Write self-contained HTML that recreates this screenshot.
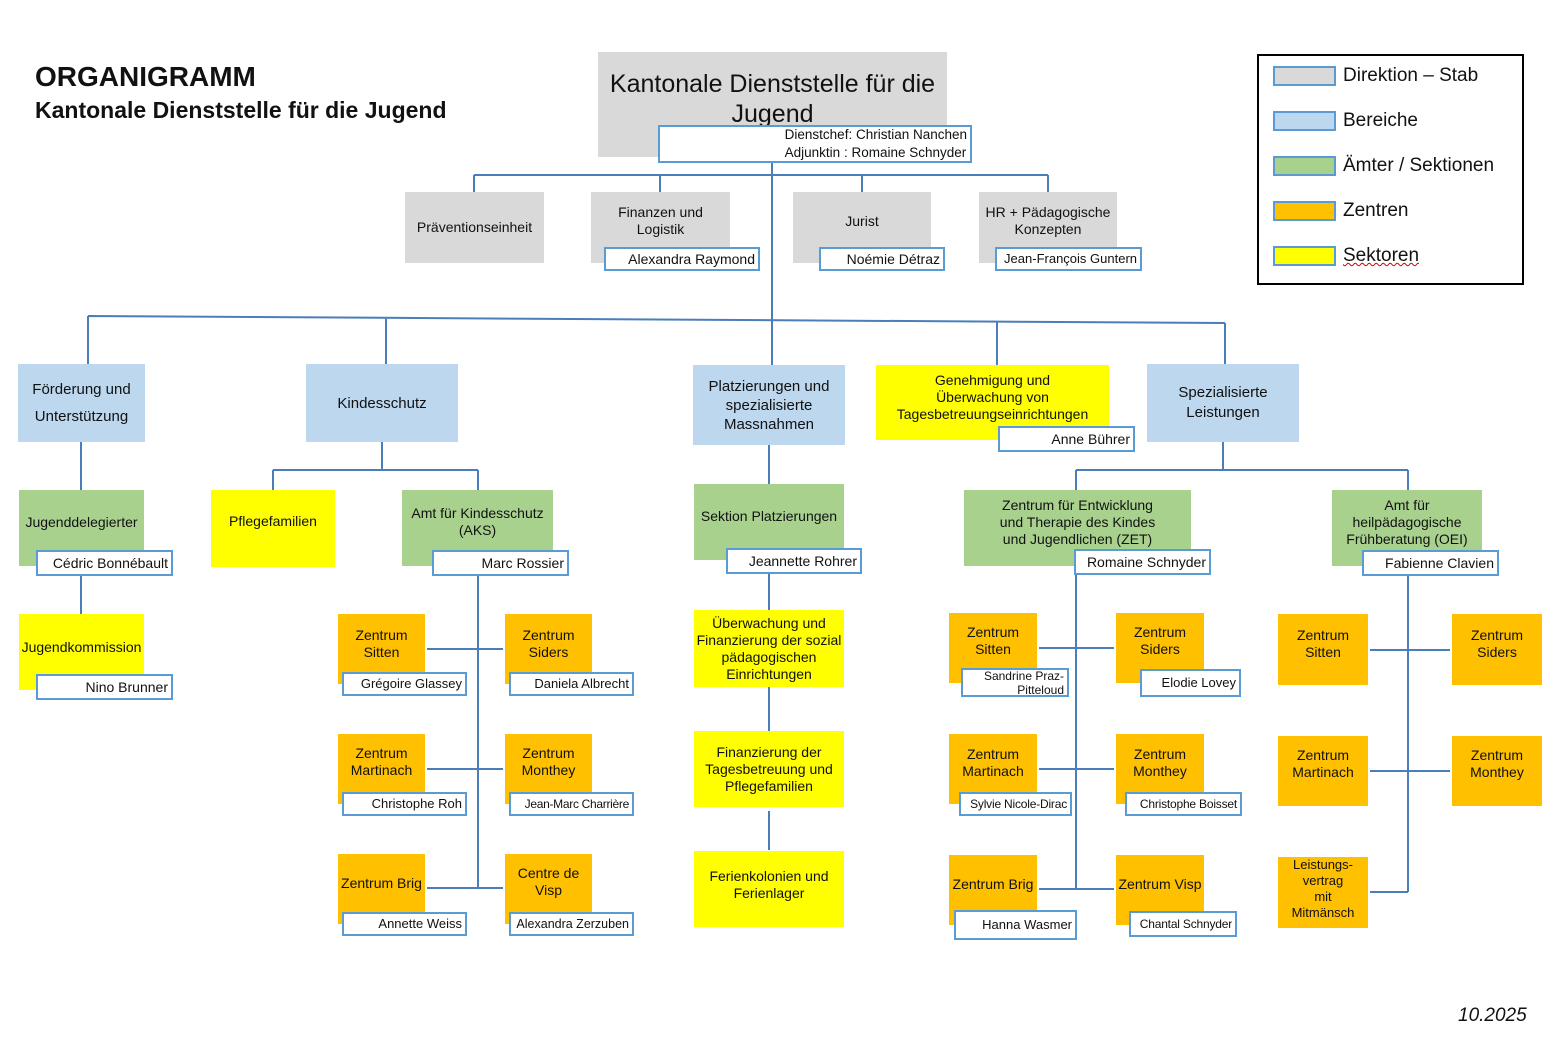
<!DOCTYPE html>
<html><head><meta charset="utf-8"><style>
body{margin:0;width:1566px;height:1038px;background:#fff;position:relative;overflow:hidden;font-family:"Liberation Sans","DejaVu Sans",sans-serif;color:#111}
.b{position:absolute;display:flex;align-items:center;justify-content:center;text-align:center;font-size:14px;line-height:17px;box-sizing:border-box}
.g{background:#d9d9d9}.bl{background:#bdd7ee}.gr{background:#a9d18e}.o{background:#ffc000}.y{background:#ffff00}
.n{position:absolute;background:#fff;border:2px solid #5b9bd5;box-sizing:border-box;font-size:13px;text-align:right;padding-right:3px;display:flex;align-items:center;justify-content:flex-end;line-height:14px;white-space:nowrap;overflow:hidden}
.lg{position:absolute;left:1273px;width:63px;height:20px;border:2px solid #5b9bd5;box-sizing:border-box}
.lt{position:absolute;left:1343px;font-size:19px}
</style></head><body>
<svg width="1566" height="1038" style="position:absolute;left:0;top:0" stroke="#4a7ebb" stroke-width="2" fill="none">
<path d="M474 175H1048M474 175V192M660 175V192M862 175V192M1048 175V192M772 163V365"/>
<path d="M88 316L1225 323M88 316V364M386 318V364M997 322V365M1225 323V364"/>
<path d="M81 442V490M81 576V614"/>
<path d="M382 442V470M273 470H478M273 470V490M478 470V490M478 576V888"/>
<path d="M427 649H503M427 769H503M427 888H503"/>
<path d="M769 445V484M769 574V610M769 687V731M769 811V850"/>
<path d="M1223 442V470M1076 470H1408M1076 470V490M1408 470V490M1076 575V890M1039 648H1114M1039 769H1114M1039 889H1114"/>
<path d="M1408 576V892M1370 650H1450M1370 771H1450M1370 892H1408"/>
</svg>
<div style="position:absolute;left:35px;top:61px;font-size:28px;font-weight:bold">ORGANIGRAMM</div>
<div style="position:absolute;left:35px;top:97px;font-size:23px;font-weight:bold">Kantonale Dienststelle für die Jugend</div>

<div class="b g" style="left:598px;top:52px;width:349px;height:105px;font-size:25px;line-height:30px;align-items:flex-start;padding-top:17px">Kantonale Dienststelle für die Jugend</div>
<div class="n" style="left:658px;top:125px;width:314px;height:38px;font-size:13.5px;line-height:18px;justify-content:flex-end;text-align:left"><div>Dienstchef: Christian Nanchen<br>Adjunktin : Romaine Schnyder</div></div>

<div class="b g" style="left:405px;top:192px;width:139px;height:71px">Präventionseinheit</div>
<div class="b g" style="left:591px;top:192px;width:139px;height:71px;align-items:flex-start;padding-top:12px">Finanzen und<br>Logistik</div>
<div class="n" style="left:604px;top:247px;width:156px;height:24px;font-size:14px">Alexandra Raymond</div>
<div class="b g" style="left:793px;top:192px;width:138px;height:71px;align-items:flex-start;padding-top:21px">Jurist</div>
<div class="n" style="left:819px;top:247px;width:126px;height:24px;font-size:14px">Noémie Détraz</div>
<div class="b g" style="left:979px;top:192px;width:138px;height:71px;align-items:flex-start;padding-top:12px">HR + Pädagogische<br>Konzepten</div>
<div class="n" style="left:995px;top:247px;width:147px;height:24px">Jean-François Guntern</div>

<div class="b bl" style="left:18px;top:364px;width:127px;height:78px;font-size:15px;line-height:27px">Förderung und<br>Unterstützung</div>
<div class="b bl" style="left:306px;top:364px;width:152px;height:78px;font-size:15px">Kindesschutz</div>
<div class="b bl" style="left:693px;top:365px;width:152px;height:80px;font-size:15px;line-height:19px">Platzierungen und spezialisierte Massnahmen</div>
<div class="b y" style="left:876px;top:365px;width:233px;height:75px;align-items:flex-start;padding-top:7px">Genehmigung und<br>Überwachung von<br>Tagesbetreuungseinrichtungen</div>
<div class="n" style="left:998px;top:426px;width:137px;height:26px;font-size:14px">Anne Bührer</div>
<div class="b bl" style="left:1147px;top:364px;width:152px;height:78px;font-size:15px;line-height:20px">Spezialisierte<br>Leistungen</div>

<div class="b gr" style="left:19px;top:490px;width:125px;height:76px;padding-bottom:12px">Jugenddelegierter</div>
<div class="n" style="left:36px;top:550px;width:137px;height:26px;font-size:14px">Cédric Bonnébault</div>
<div class="b y" style="left:19px;top:614px;width:125px;height:76px;align-items:flex-start;padding-top:25px">Jugendkommission</div>
<div class="n" style="left:36px;top:674px;width:137px;height:26px;font-size:14px">Nino Brunner</div>

<div class="b y" style="left:211px;top:490px;width:124px;height:77px;padding-bottom:14px">Pflegefamilien</div>
<div class="b gr" style="left:402px;top:490px;width:151px;height:76px;align-items:flex-start;padding-top:15px">Amt für Kindesschutz<br>(AKS)</div>
<div class="n" style="left:432px;top:550px;width:137px;height:26px;font-size:14px">Marc Rossier</div>

<div class="b o" style="left:338px;top:614px;width:87px;height:70px;align-items:flex-start;padding-top:13px">Zentrum<br>Sitten</div>
<div class="n" style="left:342px;top:672px;width:125px;height:24px">Grégoire Glassey</div>
<div class="b o" style="left:505px;top:614px;width:87px;height:70px;align-items:flex-start;padding-top:13px">Zentrum<br>Siders</div>
<div class="n" style="left:509px;top:672px;width:125px;height:24px">Daniela Albrecht</div>
<div class="b o" style="left:338px;top:734px;width:87px;height:70px;align-items:flex-start;padding-top:11px">Zentrum<br>Martinach</div>
<div class="n" style="left:342px;top:792px;width:125px;height:24px">Christophe Roh</div>
<div class="b o" style="left:505px;top:734px;width:87px;height:70px;align-items:flex-start;padding-top:11px">Zentrum<br>Monthey</div>
<div class="n" style="left:509px;top:792px;width:125px;height:24px;font-size:12px;letter-spacing:-0.3px">Jean-Marc Charrière</div>
<div class="b o" style="left:338px;top:854px;width:87px;height:70px;align-items:flex-start;padding-top:21px">Zentrum Brig</div>
<div class="n" style="left:342px;top:912px;width:125px;height:24px">Annette Weiss</div>
<div class="b o" style="left:505px;top:854px;width:87px;height:70px;align-items:flex-start;padding-top:11px">Centre de<br>Visp</div>
<div class="n" style="left:509px;top:912px;width:125px;height:24px;font-size:12.5px">Alexandra Zerzuben</div>

<div class="b gr" style="left:694px;top:484px;width:150px;height:76px;padding-bottom:12px">Sektion Platzierungen</div>
<div class="n" style="left:726px;top:548px;width:136px;height:26px;font-size:14px">Jeannette Rohrer</div>
<div class="b y" style="left:694px;top:610px;width:150px;height:77px">Überwachung und Finanzierung der sozial pädagogischen Einrichtungen</div>
<div class="b y" style="left:694px;top:731px;width:150px;height:76px">Finanzierung der<br>Tagesbetreuung und<br>Pflegefamilien</div>
<div class="b y" style="left:694px;top:851px;width:150px;height:76px;padding-bottom:8px">Ferienkolonien und<br>Ferienlager</div>

<div class="b gr" style="left:964px;top:490px;width:227px;height:76px;align-items:flex-start;padding-top:7px">Zentrum für Entwicklung<br>und Therapie des Kindes<br>und Jugendlichen (ZET)</div>
<div class="n" style="left:1074px;top:549px;width:137px;height:26px;font-size:14px">Romaine Schnyder</div>
<div class="b gr" style="left:1332px;top:490px;width:150px;height:76px;align-items:flex-start;padding-top:7px">Amt für<br>heilpädagogische<br>Frühberatung (OEI)</div>
<div class="n" style="left:1362px;top:550px;width:137px;height:26px;font-size:14px">Fabienne Clavien</div>

<div class="b o" style="left:949px;top:613px;width:88px;height:70px;align-items:flex-start;padding-top:11px">Zentrum<br>Sitten</div>
<div class="n" style="left:961px;top:668px;width:108px;height:29px;font-size:12px;line-height:14px;white-space:normal"><div style="text-align:right">Sandrine Praz-<br>Pitteloud</div></div>
<div class="b o" style="left:1116px;top:613px;width:88px;height:70px;align-items:flex-start;padding-top:11px">Zentrum<br>Siders</div>
<div class="n" style="left:1140px;top:669px;width:101px;height:28px">Elodie Lovey</div>
<div class="b o" style="left:949px;top:734px;width:88px;height:70px;align-items:flex-start;padding-top:12px">Zentrum<br>Martinach</div>
<div class="n" style="left:959px;top:792px;width:113px;height:24px;font-size:12px;letter-spacing:-0.2px">Sylvie Nicole-Dirac</div>
<div class="b o" style="left:1116px;top:734px;width:88px;height:70px;align-items:flex-start;padding-top:12px">Zentrum<br>Monthey</div>
<div class="n" style="left:1125px;top:792px;width:117px;height:24px;font-size:12px;letter-spacing:-0.2px">Christophe Boisset</div>
<div class="b o" style="left:949px;top:855px;width:88px;height:70px;align-items:flex-start;padding-top:21px">Zentrum Brig</div>
<div class="n" style="left:954px;top:910px;width:123px;height:30px">Hanna Wasmer</div>
<div class="b o" style="left:1116px;top:855px;width:88px;height:70px;align-items:flex-start;padding-top:21px">Zentrum Visp</div>
<div class="n" style="left:1129px;top:911px;width:108px;height:26px;font-size:12px;letter-spacing:-0.2px">Chantal Schnyder</div>

<div class="b o" style="left:1278px;top:614px;width:90px;height:71px;align-items:flex-start;padding-top:13px">Zentrum<br>Sitten</div>
<div class="b o" style="left:1452px;top:614px;width:90px;height:71px;align-items:flex-start;padding-top:13px">Zentrum<br>Siders</div>
<div class="b o" style="left:1278px;top:736px;width:90px;height:70px;align-items:flex-start;padding-top:11px">Zentrum<br>Martinach</div>
<div class="b o" style="left:1452px;top:736px;width:90px;height:70px;align-items:flex-start;padding-top:11px">Zentrum<br>Monthey</div>
<div class="b o" style="left:1278px;top:857px;width:90px;height:71px;font-size:13px;line-height:16px;align-items:flex-start;padding-top:0">Leistungs-<br>vertrag<br>mit<br>Mitmänsch</div>

<div style="position:absolute;left:1257px;top:54px;width:267px;height:231px;border:2px solid #000;box-sizing:border-box"></div>
<div class="lg g" style="top:66px"></div><div class="lt" style="top:65px">Direktion – Stab</div>
<div class="lg bl" style="top:111px"></div><div class="lt" style="top:110px">Bereiche</div>
<div class="lg gr" style="top:156px"></div><div class="lt" style="top:155px">Ämter / Sektionen</div>
<div class="lg o" style="top:201px"></div><div class="lt" style="top:200px">Zentren</div>
<div class="lg y" style="top:246px"></div><div class="lt" style="top:245px;text-decoration:underline wavy #c00;text-decoration-thickness:1px">Sektoren</div>

<div style="position:absolute;left:1458px;top:1005px;font-size:19px;font-style:italic">10.2025</div>
</body></html>
